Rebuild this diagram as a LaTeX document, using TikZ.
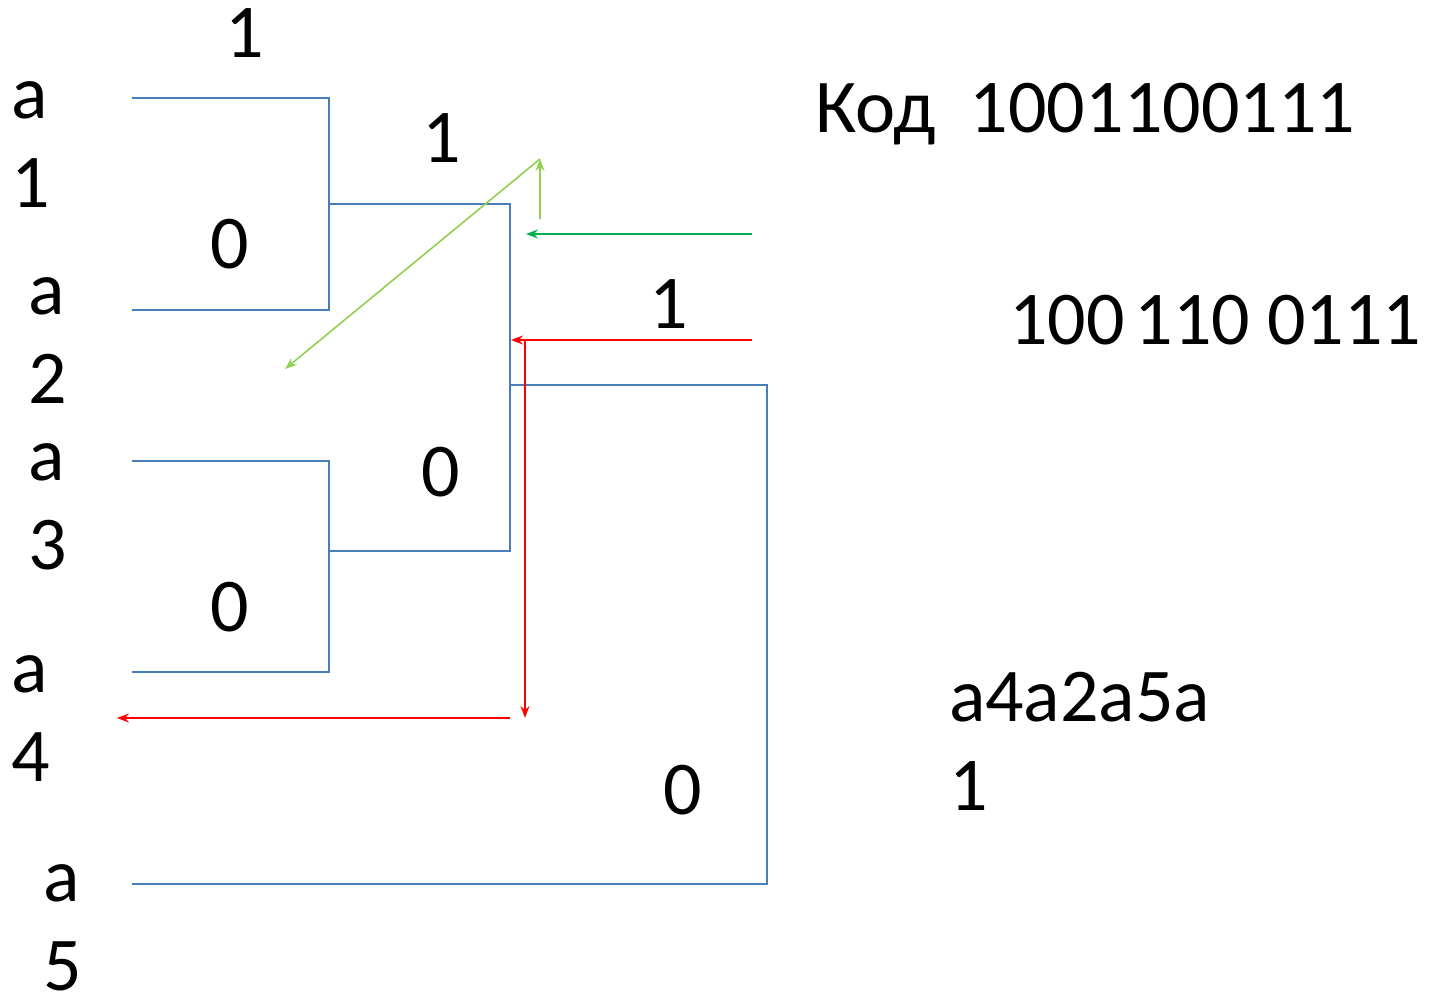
\documentclass[tikz,border=0pt]{standalone}
\usepackage{fontspec}
\setmainfont{Carlito}
\usetikzlibrary{arrows.meta}

\definecolor{treeblue}{HTML}{4A7EBB}
\definecolor{lightgreen}{HTML}{92D050}
\definecolor{darkgreen}{HTML}{00B050}
\definecolor{pathred}{HTML}{FF0000}

\tikzset{
  txt/.style={font=\fontsize{38}{44.5}\selectfont, inner sep=0pt, outer sep=0pt},
  bit/.style={txt, anchor=base},
  % two-line labels, placed by the baseline of their second line
  leaf/.style={txt, align=left, anchor=base west},
  branch/.style={draw=treeblue, line width=1.1pt, line join=miter},
  walk/.style={line width=0.8pt, -{Stealth[length=6pt,width=4.5pt,inset=2pt]}},
}

\begin{document}
\begin{tikzpicture}[x=0.5pt,y=-0.5pt]
  \useasboundingbox (0,0) rectangle (1432,996);

  % leaf labels
  \node[leaf] (la1) at (11,207) {a\\1};
  \node[leaf] (la2) at (28,403) {a\\2};
  \node[leaf] (la3) at (28,569) {a\\3};
  \node[leaf] (la4) at (11,781) {a\\4};
  \node[leaf, text depth=0pt] (la5) at (43,990) {a\\5};

  % tree joints
  \coordinate (a1e) at (132,98);
  \coordinate (j12t) at (329,98);
  \coordinate (a2e) at (132,310);
  \coordinate (j12b) at (329,310);
  \coordinate (j12m) at (329,204);
  \coordinate (jut) at (510,204);
  \coordinate (jub) at (510,551);
  \coordinate (j34m) at (329,551);
  \coordinate (a3e) at (132,461);
  \coordinate (j34t) at (329,461);
  \coordinate (a4e) at (132,672);
  \coordinate (j34b) at (329,672);
  \coordinate (jr) at (510,385);
  \coordinate (jrt) at (767,385);
  \coordinate (jrb) at (767,884);
  \coordinate (a5e) at (132,884);

  % tree branches
  \draw[branch] (a1e) -- (j12t) -- (j12b) -- (a2e);
  \draw[branch] (j12m) -- (jut) -- (jub) -- (j34m);
  \draw[branch] (a3e) -- (j34t) -- (j34b) -- (a4e);
  \draw[branch] (jr) -- (jrt) -- (jrb) -- (a5e);

  % branch bits
  \node[bit] (b1) at (245,57) {1};
  \node[bit] (b2) at (230,268) {0};
  \node[bit] (b3) at (442,162) {1};
  \node[bit] (b4) at (441,496) {0};
  \node[bit] (b5) at (230,631) {0};
  \node[bit] (b6) at (669,328) {1};
  \node[bit] (b7) at (683,814) {0};

  % decoding walks
  \coordinate (g0) at (540,219);
  \coordinate (g1) at (540,159);
  \coordinate (g2) at (285,369);
  \draw[walk, lightgreen] (g0) -- (g1);
  \draw[walk, lightgreen] (g1) -- (g2);

  \coordinate (d0) at (752,234);
  \coordinate (d1) at (526,234);
  \draw[walk, darkgreen] (d0) -- (d1);

  \coordinate (r0) at (752,340);
  \coordinate (r1) at (511,340);
  \coordinate (r2) at (525,340);
  \coordinate (r3) at (525,718);
  \coordinate (r4) at (510,718);
  \coordinate (r5) at (117,718);
  \draw[walk, pathred] (r0) -- (r1);
  \draw[walk, pathred] (r2) -- (r3);
  \draw[walk, pathred] (r4) -- (r5);

  % code and its decoding
  \node[txt, anchor=base west] (code) at (815,132) {Код\ \ 1001100111};
  \node[txt, anchor=base west] (split) at (1009,344) {100\hspace{5pt}110 0111};
  \node[leaf] (word) at (949,810) {a4a2a5a\\1};
\end{tikzpicture}
\end{document}
